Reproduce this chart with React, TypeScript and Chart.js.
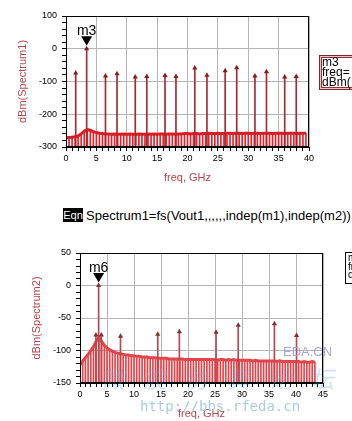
import { useEffect, useRef } from "react";
import { Chart, registerables } from "chart.js";

Chart.register(...registerables);

// ---------- Chart 1 : dBm(Spectrum1) ----------
const noiseStep1 = 0.5; // GHz spacing of the noise-floor lines
const noiseDbm1 = [
  -272, -271, -270, -269, -266, -260, -252, -247, -249, -253, -256, -258, -259, -260, -260, -261, -260, -261, -261, -260,
  -261, -260, -261, -261, -260, -261, -261, -260, -261, -260, -261, -260, -260, -261, -260, -260, -261, -260, -260, -259,
  -259, -260, -259, -259, -260, -259, -259, -258, -259, -259, -258, -259, -259, -258, -258, -259, -258, -258, -259, -258,
  -258, -259, -258, -258, -259, -258, -258, -258, -259, -258, -258, -258, -259, -258, -258, -258, -259, -258, -258, -258,
];
const toneFreq1 = [1.6, 3.4, 6.5, 8.4, 11.4, 13.3, 16.3, 18.1, 21.2, 23.2, 26.2, 28.1, 31.1, 33.0, 36.0, 37.9];
const toneDbm1 = [-74, 0, -83, -76, -86, -85, -82, -85, -59, -81, -67, -58, -83, -70, -86, -85];
const marker1Name = "m3";
const marker1Freq = 3.4;
const marker1Dbm = 0;

// ---------- Chart 2 : dBm(Spectrum2) ----------
const noiseStep2 = 0.5;
const noiseDbm2 = [
  -122, -116, -111, -106, -100, -94, -86, -80, -86, -92, -96, -99, -101, -103, -104, -105, -106, -107, -107, -108,
  -108, -109, -109, -110, -110, -110, -111, -111, -111, -112, -112, -112, -112, -113, -113, -113, -113, -113, -113, -114,
  -114, -114, -114, -114, -114, -114, -114, -114, -114, -114, -114, -115, -114, -114, -115, -114, -115, -114, -115, -115,
  -115, -115, -115, -115, -116, -115, -116, -116, -116, -116, -116, -116, -116, -117, -116, -117, -117, -117, -117, -117,
  -117, -117, -118, -117, -118, -118, -117, -118,
];
const toneFreq2 = [2.95, 3.45, 3.95, 7.5, 14.4, 18.4, 25.2, 29.3, 36.0, 40.1];
const toneDbm2 = [-76, 0, -76, -78, -75, -71, -72, -61, -59, -77];
const marker2Name = "m6";
const marker2Freq = 3.45;
const marker2Dbm = 0;

const SANS = "'Liberation Sans', Arial, 'DejaVu Sans', sans-serif";

type Spec = {
  noise: number[];
  step: number;
  toneF: number[];
  toneV: number[];
  xMax: number;
  yMin: number;
  yMax: number;
  yStep: number;
  yMajor: number;
  yWidth: number;
  xHeight: number;
  pad: { top: number; right: number; left: number; bottom: number };
  yTitle: string;
  yTitlePad: number;
  xTitlePad: number;
  noiseColor: string;
  noiseTop: string;
  stemColor: string;
  headColor: string;
  marker: { label: string; freq: number; dbm: number };
};

const framePlugin = {
  id: "adsFrame",
  afterDatasetsDraw(chart: any, _args: any, opts: any) {
    const { ctx, chartArea: a, scales } = chart;
    ctx.save();
    ctx.strokeStyle = "#000";
    ctx.lineWidth = 1;
    const l = Math.round(a.left) + 0.5;
    const t = Math.round(a.top) + 0.5;
    const r = Math.round(a.right) - 0.5;
    const b = Math.round(a.bottom) - 0.5;
    ctx.strokeRect(l, t, r - l, b - t);
    if (opts && opts.label) {
      const px = scales.x.getPixelForValue(opts.freq);
      const py = scales.y.getPixelForValue(opts.dbm);
      ctx.fillStyle = "#000";
      ctx.beginPath();
      ctx.moveTo(px - 5.5, py - 12.5);
      ctx.lineTo(px + 5.5, py - 12.5);
      ctx.lineTo(px, py - 3);
      ctx.closePath();
      ctx.fill();
      ctx.font = "14px " + SANS;
      ctx.textAlign = "center";
      ctx.textBaseline = "alphabetic";
      ctx.fillText(opts.label, px, py - 14);
    }
    ctx.restore();
  },
};

function buildConfig(s: Spec): any {
  const noisePts = s.noise.map((v, i) => ({ x: i * s.step, y: v }));
  const noiseBars = s.noise.map((v, i) => ({ x: i * s.step, y: [s.yMin, v] }));
  const toneBars = s.toneF.map((f, i) => ({ x: f, y: [s.yMin, s.toneV[i]] }));
  const toneHeads = s.toneF.map((f, i) => ({ x: f, y: s.toneV[i] }));
  const tickFont = { family: SANS, size: 9 };
  const titleFont = { family: SANS, size: 11, lineHeight: 1.2 };
  const titleColor = "#b4454b";
  return {
    type: "scatter",
    data: {
      datasets: [
        {
          type: "scatter",
          data: toneHeads,
          pointStyle: "triangle",
          pointRadius: 3,
          backgroundColor: s.headColor,
          borderColor: s.headColor,
          borderWidth: 0,
          order: 0,
        },
        {
          type: "bar",
          data: toneBars,
          barThickness: 1,
          grouped: false,
          backgroundColor: s.stemColor,
          borderWidth: 0,
          order: 1,
        },
        {
          type: "line",
          data: noisePts,
          borderColor: s.noiseTop,
          borderWidth: 3,
          pointRadius: 0,
          tension: 0,
          fill: false,
          order: 2,
        },
        {
          type: "bar",
          data: noiseBars,
          barThickness: 1,
          grouped: false,
          backgroundColor: s.noiseColor,
          borderWidth: 0,
          order: 3,
        },
      ],
    },
    options: {
      responsive: false,
      animation: false,
      devicePixelRatio: 1,
      events: [],
      layout: { padding: s.pad },
      plugins: {
        legend: { display: false },
        tooltip: { enabled: false },
        adsFrame: s.marker,
      },
      scales: {
        x: {
          type: "linear",
          min: 0,
          max: s.xMax,
          offset: false,
          afterFit: (sc: any) => {
            sc.height = s.xHeight;
          },
          ticks: {
            stepSize: 1,
            autoSkip: false,
            maxRotation: 0,
            padding: 2,
            color: "#000",
            font: tickFont,
            callback: (v: any) => (Math.round(v) % 5 === 0 ? String(Math.round(v)) : ""),
          },
          grid: {
            offset: false,
            color: (c: any) =>
              c.tick && Math.round(c.tick.value) % 5 === 0 ? "#b4b4b4" : "rgba(0,0,0,0)",
            tickColor: "#000",
            tickLength: 4,
            lineWidth: 1,
          },
          border: { display: true, color: "#000" },
          title: {
            display: true,
            text: "freq, GHz",
            color: titleColor,
            font: titleFont,
            padding: { top: 0, bottom: s.xTitlePad },
          },
        },
        y: {
          type: "linear",
          min: s.yMin,
          max: s.yMax,
          afterFit: (sc: any) => {
            sc.width = s.yWidth;
          },
          ticks: {
            stepSize: s.yStep,
            autoSkip: false,
            padding: 5,
            color: "#000",
            font: tickFont,
            callback: (v: any) =>
              Math.round(v) % s.yMajor === 0 ? String(Math.round(v)) : "",
          },
          grid: {
            color: (c: any) =>
              c.tick && Math.round(c.tick.value) % s.yMajor === 0 ? "#b4b4b4" : "rgba(0,0,0,0)",
            tickColor: "#000",
            tickLength: 4,
            lineWidth: 1,
          },
          border: { display: true, color: "#000" },
          title: {
            display: true,
            text: s.yTitle,
            color: titleColor,
            font: titleFont,
            padding: { top: s.yTitlePad, bottom: 0 },
          },
        },
      },
    },
    plugins: [framePlugin],
  };
}

const spec1: Spec = {
  noise: noiseDbm1,
  step: noiseStep1,
  toneF: toneFreq1,
  toneV: toneDbm1,
  xMax: 40,
  yMin: -300,
  yMax: 100,
  yStep: 20,
  yMajor: 100,
  yWidth: 66,
  xHeight: 48,
  pad: { top: 16, right: 21, left: 0, bottom: 0 },
  yTitle: "dBm(Spectrum1)",
  yTitlePad: 16,
  xTitlePad: 10,
  noiseColor: "#e4222c",
  noiseTop: "#dc1c24",
  stemColor: "#a8282e",
  headColor: "#8a1c20",
  marker: { label: marker1Name, freq: marker1Freq, dbm: marker1Dbm },
};

const spec2: Spec = {
  noise: noiseDbm2,
  step: noiseStep2,
  toneF: toneFreq2,
  toneV: toneDbm2,
  xMax: 45,
  yMin: -150,
  yMax: 50,
  yStep: 10,
  yMajor: 50,
  yWidth: 80,
  xHeight: 38,
  pad: { top: 23, right: 17, left: 0, bottom: 0 },
  yTitle: "dBm(Spectrum2)",
  yTitlePad: 30,
  xTitlePad: 0,
  noiseColor: "#e84248",
  noiseTop: "#e2444a",
  stemColor: "#b8484e",
  headColor: "#8c2c32",
  marker: { label: marker2Name, freq: marker2Freq, dbm: marker2Dbm },
};

export default function App() {
  const ref1 = useRef<HTMLCanvasElement>(null);
  const ref2 = useRef<HTMLCanvasElement>(null);

  useEffect(() => {
    const c1 = new Chart(ref1.current as HTMLCanvasElement, buildConfig(spec1));
    const c2 = new Chart(ref2.current as HTMLCanvasElement, buildConfig(spec2));
    return () => {
      c1.destroy();
      c2.destroy();
    };
  }, []);

  const abs = (o: any) => ({ position: "absolute" as const, ...o });

  return (
    <div
      style={{
        position: "fixed",
        left: 0,
        top: 0,
        width: 352,
        height: 421,
        overflow: "hidden",
        background: "#fff",
        fontFamily: SANS,
      }}
    >
      <canvas ref={ref1} width={330} height={195} style={abs({ left: 0, top: 0, width: 330, height: 195 })} />
      <canvas ref={ref2} width={340} height={191} style={abs({ left: 0, top: 230, width: 340, height: 191 })} />

      {/* marker readout box, chart 1 */}
      <div
        style={abs({
          left: 319,
          top: 55,
          width: 60,
          height: 35,
          boxSizing: "border-box",
          border: "1px solid #7b2a2a",
          boxShadow: "inset 0 0 0 1px #e6c4c4, inset 0 0 0 2px #8a3434",
          padding: "1px 0 0 2px",
          fontSize: 12,
          lineHeight: "10px",
          color: "#000",
          whiteSpace: "nowrap",
        })}
      >
        <div>m3</div>
        <div>freq=</div>
        <div>dBm(</div>
      </div>

      {/* equation line */}
      <div
        style={abs({
          left: 63,
          top: 208,
          width: 20,
          height: 14,
          background: "#000",
          color: "#fff",
          fontSize: 11,
          lineHeight: "14px",
          textAlign: "center",
        })}
      >
        Eqn
      </div>
      <div style={abs({ left: 86, top: 208, fontSize: 13, lineHeight: "16px", color: "#000", whiteSpace: "nowrap" })}>
        Spectrum1=fs(Vout1,,,,,,indep(m1),indep(m2))
      </div>

      {/* marker readout box, chart 2 */}
      <div
        style={abs({
          left: 345,
          top: 252,
          width: 60,
          height: 32,
          boxSizing: "border-box",
          border: "1px solid #000",
          padding: "1px 0 0 2px",
          fontSize: 10,
          lineHeight: "8.5px",
          color: "#000",
          whiteSpace: "nowrap",
        })}
      >
        <div>m6</div>
        <div>freq=</div>
        <div>dBm(</div>
      </div>

      {/* watermark */}
      <div
        style={abs({
          left: 100,
          top: 360,
          fontSize: 24,
          letterSpacing: 18,
          fontStyle: "italic",
          fontFamily: "'Noto Sans CJK SC', sans-serif",
          color: "rgba(110,160,215,0.30)",
          whiteSpace: "nowrap",
          pointerEvents: "none",
        })}
      >
        微波仿真论坛
      </div>
      <div
        style={abs({
          left: 283,
          top: 344,
          fontSize: 13,
          color: "#a2a6e4",
          whiteSpace: "nowrap",
          pointerEvents: "none",
        })}
      >
        EDA.CN
      </div>
      <div
        style={abs({
          left: 140,
          top: 398,
          fontSize: 14,
          lineHeight: "17px",
          fontFamily: "'DejaVu Sans Mono', monospace",
          color: "#a9cde8",
          whiteSpace: "nowrap",
          pointerEvents: "none",
        })}
      >
        http://bbs.rfeda.cn
      </div>
    </div>
  );
}
